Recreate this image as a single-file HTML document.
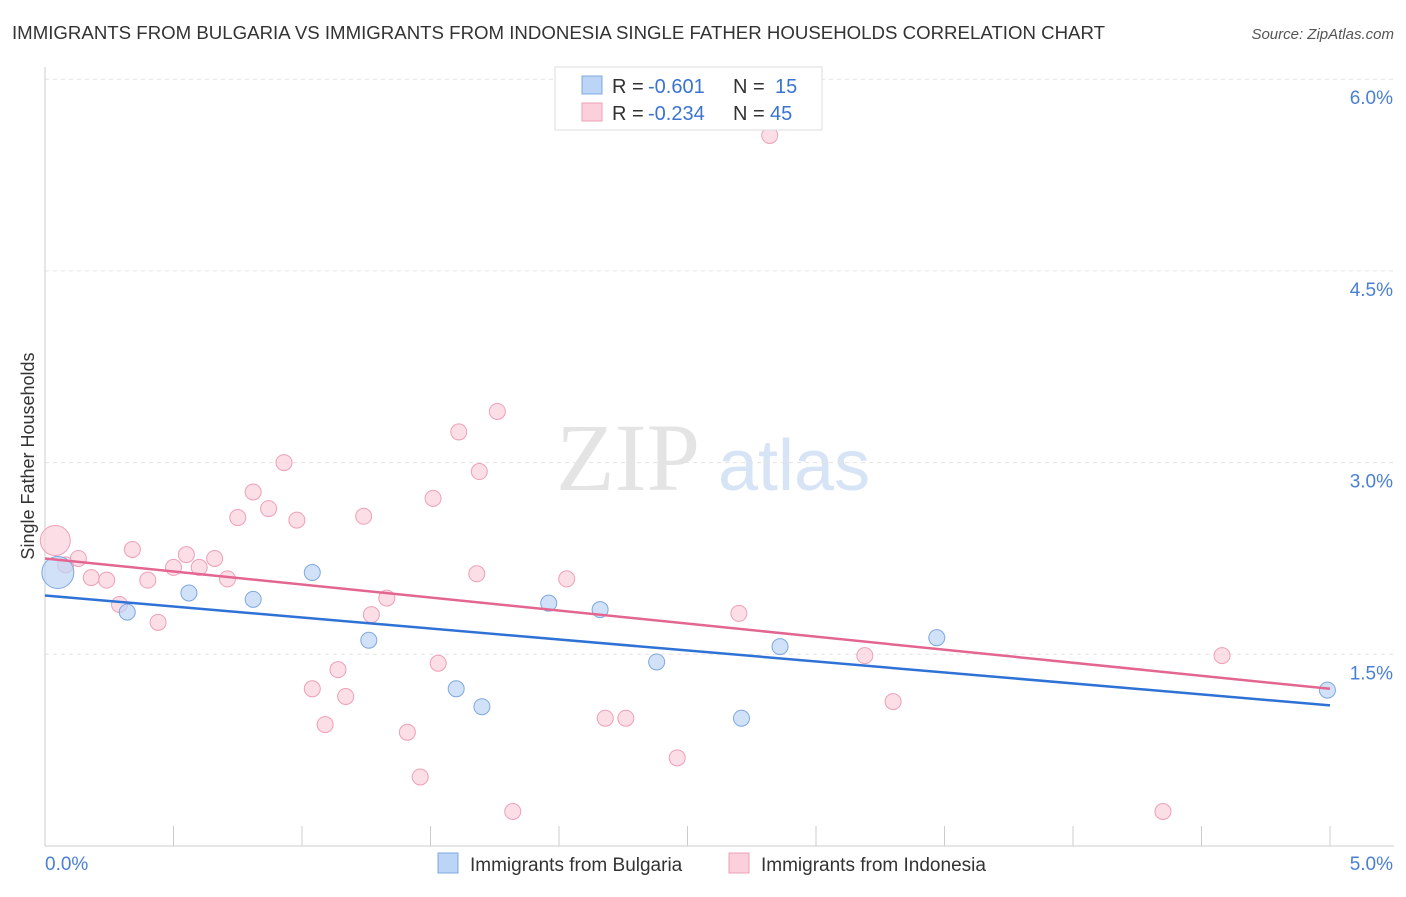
<!DOCTYPE html>
<html><head><meta charset="utf-8"><style>
body{margin:0;background:#fff;font-family:"Liberation Sans",sans-serif;}
</style></head><body>
<svg id="c" width="1406" height="892" xmlns="http://www.w3.org/2000/svg" style="font-family:'Liberation Sans',sans-serif">
<text x="12" y="39" font-size="18" fill="#333" textLength="1093" lengthAdjust="spacingAndGlyphs">IMMIGRANTS FROM BULGARIA VS IMMIGRANTS FROM INDONESIA SINGLE FATHER HOUSEHOLDS CORRELATION CHART</text>
<text x="1394" y="39" font-size="15" fill="#555" text-anchor="end" font-style="italic">Source: ZipAtlas.com</text>
<text x="556" y="490" font-size="96" fill="#e4e4e4" font-family="Liberation Serif">ZIP</text>
<text x="718" y="490" font-size="72" fill="#d6e4f5">atlas</text>
<text transform="translate(34,456) rotate(-90)" font-size="18" fill="#333" text-anchor="middle">Single Father Households</text>
<g id="grid"></g><g id="axes"></g><g id="lines"></g><g id="pts"></g>
<g>
<rect x="555" y="67" width="267" height="63" fill="#fff" stroke="#ddd"/>
<rect x="582" y="76" width="20" height="18" fill="#bcd4f5" stroke="#7fa8e0"/>
<text x="612" y="93" font-size="20" fill="#333">R =</text>
<text x="648" y="93" font-size="20" fill="#3a74d0">-0.601</text>
<text x="733" y="93" font-size="20" fill="#333">N =</text>
<text x="775" y="93" font-size="20" fill="#3a74d0">15</text>
<rect x="582" y="103" width="20" height="18" fill="#fbd0dc" stroke="#eea0b6"/>
<text x="612" y="120" font-size="20" fill="#333">R =</text>
<text x="648" y="120" font-size="20" fill="#3a74d0">-0.234</text>
<text x="733" y="120" font-size="20" fill="#333">N =</text>
<text x="770" y="120" font-size="20" fill="#3a74d0">45</text>
</g>
<g>
<rect x="438" y="853" width="20" height="20" fill="#bcd4f5" stroke="#7fa8e0"/>
<text x="470" y="871" font-size="19" fill="#333">Immigrants from Bulgaria</text>
<rect x="729" y="853" width="20" height="20" fill="#fbd0dc" stroke="#eea0b6"/>
<text x="761" y="871" font-size="19" fill="#333">Immigrants from Indonesia</text>
</g>
</svg>
<script>
const blueX=[0.05,0.32,0.56,0.81,1.04,1.26,1.60,1.70,1.96,2.16,2.38,2.71,2.86,3.47,4.99];
const blueY=[2.14,1.83,1.98,1.93,2.14,1.61,1.23,1.09,1.90,1.85,1.44,1.00,1.56,1.63,1.22];
const blueR=[16,8,8,8,8,8,8,8,8,8,8,8,8,8,8];
const pinkX=[0.04,0.08,0.13,0.18,0.24,0.29,0.34,0.40,0.44,0.50,0.55,0.60,0.66,0.71,0.75,0.81,0.87,0.93,0.98,1.04,1.09,1.14,1.17,1.24,1.27,1.33,1.41,1.46,1.51,1.53,1.61,1.68,1.69,1.76,1.82,2.03,2.18,2.26,2.46,2.70,2.82,3.19,3.30,4.35,4.58];
const pinkY=[2.39,2.20,2.25,2.10,2.08,1.89,2.32,2.08,1.75,2.18,2.28,2.18,2.25,2.09,2.57,2.77,2.64,3.00,2.55,1.23,0.95,1.38,1.17,2.58,1.81,1.94,0.89,0.54,2.72,1.43,3.24,2.13,2.93,3.40,0.27,2.09,1.00,1.00,0.69,1.82,5.56,1.49,1.13,0.27,1.49];
const blueTrend=[1.96,1.10];
const pinkTrend=[2.25,1.23];
const yTicks=[1.5,3.0,4.5,6.0];
const yTickLabels=["1.5%","3.0%","4.5%","6.0%"];
const xTicks=[0,0.5,1,1.5,2,2.5,3,3.5,4,4.5,5];
const NS='http://www.w3.org/2000/svg';
const X=v=>45+v*257, Y=v=>846-v*127.8;
function mk(p,t,a){const e=document.createElementNS(NS,t);for(const k in a)e.setAttribute(k,a[k]);document.getElementById(p).appendChild(e);return e;}
yTicks.forEach((t,i)=>{
 const g=mk('grid','line',{x1:45,x2:1394,y1:Y(t),y2:Y(t),stroke:'#e3e3e3','stroke-dasharray':'4,4'});
 
 
 const l=mk('grid','text',{x:1393,y:Y(t)+25,'font-size':19,fill:'#4a7fd4','text-anchor':'end'});l.textContent=yTickLabels[i];
 
 
});
let a=mk('axes','line',{x1:45,x2:45,y1:67,y2:846,stroke:'#ccc'});


a=mk('axes','line',{x1:45,x2:1394,y1:846,y2:846,stroke:'#ccc'});


xTicks.forEach(t=>{const e=mk('axes','line',{x1:X(t),x2:X(t),y1:826,y2:846,stroke:'#ccc'});
 
 });
let t=mk('axes','text',{x:45,y:870,'font-size':19,fill:'#4a7fd4'});t.textContent='0.0%';


t=mk('axes','text',{x:1393,y:870,'font-size':19,fill:'#4a7fd4','text-anchor':'end'});t.textContent='5.0%';


pinkX.forEach((x,i)=>{const c=mk('pts','circle',{cx:X(x),cy:Y(pinkY[i]),r:i==0?15:8,fill:'#fbd0dc',stroke:'#eea0b6','fill-opacity':0.7,'stroke-width':1});
 
 });
blueX.forEach((x,i)=>{const c=mk('pts','circle',{cx:X(x),cy:Y(blueY[i]),r:blueR[i],fill:'#bcd4f5',stroke:'#7fa8e0','fill-opacity':0.7,'stroke-width':1});
 
 });
let L=mk('lines','line',{x1:X(0),x2:X(5),y1:Y(blueTrend[0]),y2:Y(blueTrend[1]),stroke:'#2f72d6','stroke-width':2.5});


L=mk('lines','line',{x1:X(0),x2:X(5),y1:Y(pinkTrend[0]),y2:Y(pinkTrend[1]),stroke:'#e36690','stroke-width':2.5});


document.getElementById('c').appendChild(document.getElementById('lines'));
</script>
</body></html>
